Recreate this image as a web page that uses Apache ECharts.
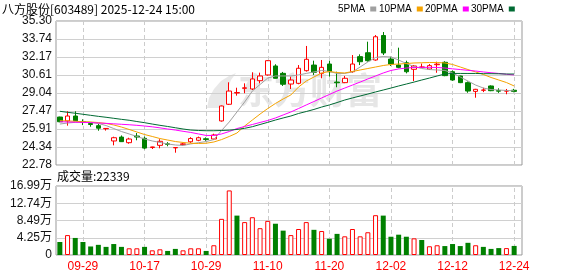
<!DOCTYPE html>
<html><head><meta charset="utf-8">
<script src="https://cdn.jsdelivr.net/npm/echarts@6/dist/echarts.min.js"></script>
<style>html,body{margin:0;padding:0;background:#fff}#c{width:578px;height:276px}</style>
</head><body><div id="c"></div>
<script>
const titleText = '八方股份[603489] 2025-12-24 15:00';
const dates = ['09-24','09-25','09-26','09-29','09-30','10-09','10-10','10-13','10-14','10-15','10-16','10-17','10-20','10-21','10-22','10-23','10-24','10-27','10-28','10-29','10-30','10-31','11-03','11-04','11-05','11-06','11-07','11-10','11-11','11-12','11-13','11-14','11-17','11-18','11-19','11-20','11-21','11-24','11-25','11-26','11-27','11-28','12-01','12-02','12-03','12-04','12-05','12-08','12-09','12-10','12-11','12-12','12-15','12-16','12-17','12-18','12-19','12-22','12-23','12-24'];
const opens  = [26.95,26.61,27.04,26.55,26.39,26.20,25.93,24.87,25.21,24.72,25.30,25.10,24.30,24.49,24.62,24.27,24.55,24.80,24.93,25.06,25.04,26.61,28.06,29.04,29.45,29.39,30.11,30.61,31.39,30.75,29.82,29.88,30.98,31.47,30.75,31.56,29.99,29.94,30.89,32.20,32.54,31.91,34.04,31.99,31.47,31.67,31.10,31.28,31.12,31.50,31.71,30.89,30.52,29.94,29.18,29.28,29.65,29.25,29.21,29.28];
const closes = [26.54,27.04,26.63,26.50,26.30,25.98,25.96,25.15,24.81,25.04,25.21,24.25,24.35,24.84,24.58,24.30,24.62,25.08,25.15,25.00,25.39,27.91,29.21,29.08,29.49,30.26,30.52,31.85,30.32,29.80,30.17,31.19,31.97,30.84,31.27,30.89,29.93,30.32,31.56,31.76,31.85,33.93,32.52,31.56,31.27,30.89,31.39,31.30,31.42,31.55,30.55,30.17,29.94,29.21,29.36,29.30,29.24,29.20,29.22,29.18];
const lows   = [26.50,26.20,26.60,26.25,26.11,25.76,25.77,24.49,24.78,24.63,24.93,24.15,24.17,24.23,24.41,23.85,24.45,24.70,24.85,24.88,24.95,26.55,28.00,28.81,29.02,29.30,29.88,30.55,30.30,29.65,29.39,29.80,30.90,30.61,30.32,30.46,29.54,29.90,30.80,31.47,31.76,31.85,32.34,31.39,31.19,30.75,30.08,31.22,31.04,30.80,30.50,30.10,29.90,29.06,28.63,29.12,29.20,29.05,28.93,29.10];
const highs  = [26.98,27.45,27.45,26.75,26.40,26.35,25.98,25.24,25.35,25.15,25.56,25.25,24.37,25.02,24.77,24.32,24.70,25.20,25.25,25.18,25.50,27.95,29.97,29.50,29.88,30.84,30.81,31.90,31.54,30.87,30.46,31.47,33.13,31.85,31.91,31.85,30.89,30.52,32.34,32.40,33.50,34.08,34.34,32.20,32.98,31.85,31.47,31.60,31.56,31.76,31.80,31.00,30.55,30.04,29.40,29.50,29.70,29.45,29.39,29.40];
const prevClose = 26.90;
const volumes = [32000,49000,42000,32000,21000,25000,20000,27000,20000,16500,16500,20000,11500,14000,10000,15000,11500,16500,16500,10000,24000,89000,159000,97000,81000,93000,66000,84000,77000,60000,49000,64000,81000,62000,59000,40000,52000,46000,64000,46000,56000,98000,97000,45000,50000,45000,41000,37000,21500,24000,22000,27000,22000,30000,24000,20000,15000,17000,17000,22339];
const ma5  = [26.34,26.43,26.49,26.54,26.49,26.39,26.21,25.95,25.69,25.48,25.26,25.04,24.87,24.74,24.61,24.52,24.48,24.61,24.72,24.82,24.99,25.78,26.52,27.39,28.26,29.21,29.78,30.34,30.52,30.52,30.52,30.61,30.74,30.87,31.00,30.91,30.74,30.74,30.87,31.30,31.74,32.13,32.21,32.17,31.91,31.60,31.34,31.17,31.08,31.04,31.00,30.78,30.43,30.08,29.73,29.47,29.34,29.30,29.26,29.23];
const ma10 = [26.63,26.61,26.58,26.54,26.52,26.47,26.39,26.26,26.08,25.87,25.65,25.43,25.26,25.08,24.95,24.82,24.74,24.67,24.65,24.67,24.78,24.99,25.26,25.56,26.17,26.69,27.21,27.69,28.13,28.52,28.87,29.56,30.08,30.43,30.78,30.91,30.82,30.78,30.91,31.04,31.17,31.30,31.43,31.52,31.56,31.60,31.65,31.67,31.69,31.69,31.65,31.52,31.30,31.08,30.87,30.65,30.39,30.17,29.95,29.65];
const ma20 = [26.54,26.52,26.50,26.48,26.47,26.43,26.40,26.36,26.32,26.28,26.23,26.17,26.10,26.01,25.91,25.82,25.71,25.61,25.48,25.35,25.35,25.48,25.69,25.95,26.13,26.30,26.48,26.65,26.87,27.13,27.39,27.69,28.00,28.30,28.61,28.91,29.21,29.47,29.73,29.99,30.26,30.52,30.78,31.00,31.13,31.21,31.26,31.27,31.27,31.26,31.21,31.14,31.08,31.01,30.95,30.87,30.80,30.74,30.67,30.61];
const ma30 = [27.45,27.36,27.28,27.19,27.10,27.01,26.93,26.84,26.75,26.67,26.56,26.46,26.34,26.23,26.13,26.02,25.91,25.82,25.78,25.76,25.76,25.78,25.81,25.87,25.97,26.11,26.30,26.49,26.69,26.87,27.04,27.26,27.43,27.61,27.82,28.00,28.21,28.43,28.61,28.78,28.95,29.13,29.30,29.47,29.65,29.82,29.99,30.17,30.34,30.52,30.69,30.74,30.74,30.74,30.74,30.72,30.72,30.71,30.69,30.69];
const priceTickLabels = ['22.78','24.34','25.91','27.47','29.04','30.61','32.17','33.74','35.30'];
const volTickLabels = ['0','4.25万','8.49万','12.74万','16.99万'];
const dateLabelDays = ['09-29','10-17','10-29','11-10','11-20','12-02','12-12','12-24'];
const maNames = ['5PMA','10PMA','20PMA','30PMA'];

const PMIN = 22.78, PMAX = 35.30, PINT = 1.565;
const VMAX = 169900, VINT = 42475;
const RED = '#ff0000', GREEN = '#008000';
const maColors = ['#a0a0a0','#f5a300','#ff00ff','#006a33'];
const maData = [ma5, ma10, ma20, ma30];
const labelSet = new Set(dateLabelDays);
const showAt = (idx, val) => labelSet.has(val !== undefined ? val : dates[idx]);
const numFont = "'Liberation Sans', Arial, 'Noto Sans CJK SC', sans-serif";
const cjkFont = "'Noto Sans CJK SC', 'Liberation Sans', sans-serif";

const candleData = dates.map((d, i) => [opens[i], closes[i], lows[i], highs[i]]);
const volData = volumes.map((v, i) => {
  const pc = i === 0 ? prevClose : closes[i - 1];
  const up = closes[i] >= pc;
  return { value: v, itemStyle: up ? { color: '#ffffff', borderColor: RED, borderWidth: 1 } : { color: GREEN, borderColor: GREEN, borderWidth: 0 } };
});

const chart = echarts.init(document.getElementById('c'), null, { renderer: 'canvas' });
const option = {
  animation: false,
  backgroundColor: '#ffffff',
  title: [
    { text: titleText, left: 2, top: 3, padding: 0, textStyle: { fontSize: 12, fontWeight: 'normal', color: '#000', fontFamily: cjkFont } },
    { text: '成交量:' + volumes[volumes.length - 1], left: 57, top: 170, padding: 0, textStyle: { fontSize: 12, fontWeight: 'normal', color: '#000', fontFamily: cjkFont } }
  ],
  legend: maNames.map((n, k) => ({
    data: [n], left: [338, 379, 425, 471][k], top: 4, padding: 0, align: 'right', icon: 'rect',
    itemWidth: 6, itemHeight: 5, selectedMode: false,
    textStyle: { fontSize: 10, color: '#000', fontFamily: "'Liberation Sans', sans-serif", padding: [0, 0, 0, 0] }
  })),
  graphic: [
    { type: 'polygon', z: -1, silent: true,
      shape: { points: [[207,108],[209,98],[214,89],[221,81],[229,76],[236,73],[231,80],[228,88],[226,97],[225,108]] },
      style: { fill: '#e8e8e8' } },
    { type: 'text', left: 238, top: 72, z: -1, silent: true,
      style: { text: '东方财富', font: 'bold 36px "Noto Sans CJK SC"', fill: '#e6e6e6' } }
  ],
  grid: [
    { left: 56, width: 466, top: 21, height: 144, show: true, borderColor: '#999', borderWidth: 1, backgroundColor: 'transparent' },
    { left: 56, width: 462, top: 21, height: 144 },
    { left: 56, width: 466, top: 186, height: 69, show: true, borderColor: '#999', borderWidth: 1, backgroundColor: 'transparent' },
    { left: 56, width: 462, top: 186, height: 69 }
  ],
  xAxis: [
    { gridIndex: 0, type: 'value', min: 0, max: 1, show: false },
    { gridIndex: 1, type: 'category', data: dates, boundaryGap: true,
      axisLine: { show: false }, axisLabel: { show: false }, splitLine: { show: false },
      axisTick: { show: true, alignWithLabel: true, inside: true, length: 144, interval: showAt, lineStyle: { color: '#cccccc', type: [4, 3], width: 1 } } },
    { gridIndex: 2, type: 'value', min: 0, max: 1, show: false },
    { gridIndex: 3, type: 'category', data: dates, boundaryGap: true,
      axisLine: { show: false }, splitLine: { show: false },
      axisTick: { show: true, alignWithLabel: true, inside: true, length: 69, interval: showAt, lineStyle: { color: '#cccccc', type: [4, 3], width: 1 } },
      axisLabel: { show: true, interval: showAt, color: RED, fontSize: 12, margin: 6, fontFamily: numFont, hideOverlap: false } }
  ],
  yAxis: [
    { gridIndex: 0, type: 'value', min: PMIN, max: PMAX, interval: PINT, scale: true,
      axisLine: { show: false }, axisTick: { show: false },
      splitLine: { show: true, lineStyle: { color: '#d0d0d0', width: 1 } },
      axisLabel: { show: true, margin: 4, fontSize: 12, color: '#111', fontFamily: numFont, showMinLabel: true, showMaxLabel: true,
        formatter: (v) => priceTickLabels[Math.round((v - PMIN) / PINT)] } },
    { gridIndex: 1, type: 'value', min: PMIN, max: PMAX, scale: true, show: false, splitLine: { show: false } },
    { gridIndex: 2, type: 'value', min: 0, max: VMAX, interval: VINT,
      axisLine: { show: false }, axisTick: { show: false },
      splitLine: { show: true, lineStyle: { color: '#d0d0d0', width: 1 } },
      axisLabel: { show: true, margin: 4, fontSize: 12, color: '#111', fontFamily: numFont, showMinLabel: true, showMaxLabel: true,
        formatter: (v) => volTickLabels[Math.round(v / VINT)] } },
    { gridIndex: 3, type: 'value', min: 0, max: VMAX, show: false, splitLine: { show: false } }
  ],
  series: [
    { name: 'K', type: 'candlestick', xAxisIndex: 1, yAxisIndex: 1, data: candleData, barWidth: 5,
      itemStyle: { color: '#ffffff', color0: GREEN, borderColor: RED, borderColor0: GREEN, borderWidth: 1 } },
    ...maNames.map((n, k) => ({
      name: n, type: 'line', xAxisIndex: 1, yAxisIndex: 1, data: maData[k], symbol: 'none', smooth: false,
      lineStyle: { color: maColors[k], width: 1 }, itemStyle: { color: maColors[k] }
    })),
    { name: 'VOL', type: 'bar', xAxisIndex: 3, yAxisIndex: 3, data: volData, barWidth: 5 }
  ]
};
chart.setOption(option);
</script></body></html>
